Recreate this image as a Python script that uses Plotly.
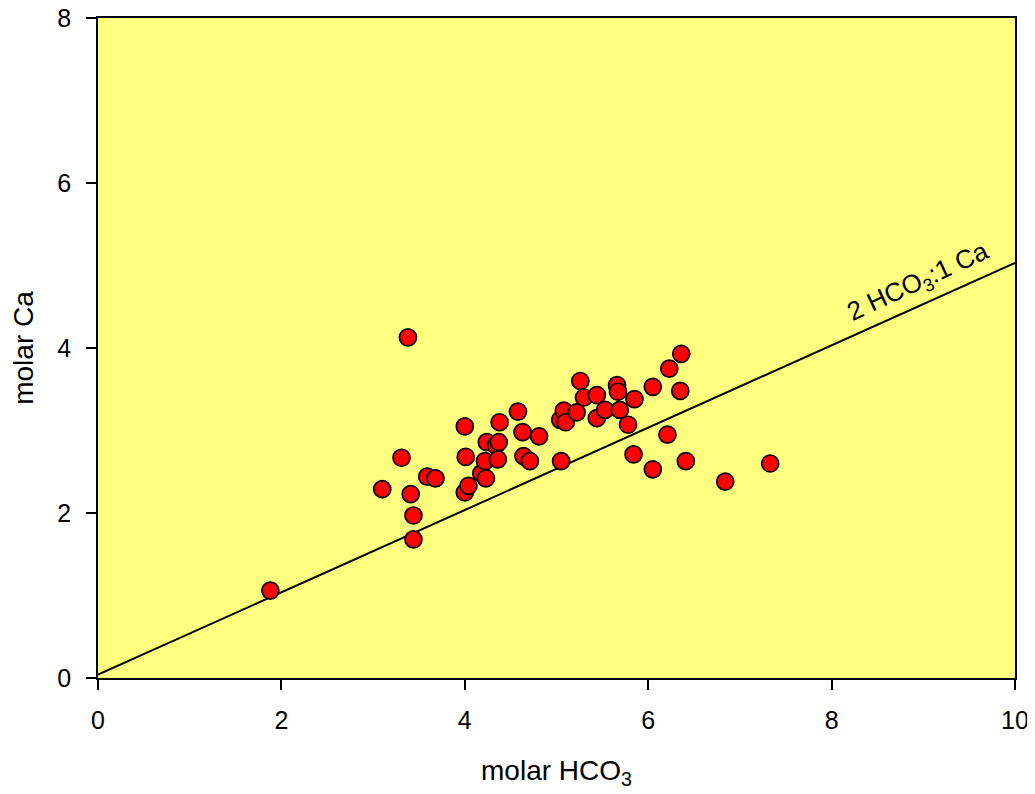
import plotly.graph_objects as go

# molar HCO3 (x) and molar Ca (y) sample values
hco3 = [1.88, 3.10, 3.31, 3.38, 3.41, 3.44, 3.44, 3.59, 3.68, 4.00,
        4.00, 4.01, 4.04, 4.18, 4.22, 4.23, 4.24, 4.34, 4.36, 4.37,
        4.38, 4.58, 4.63, 4.64, 4.71, 4.81, 5.04, 5.05, 5.08, 5.10,
        5.22, 5.26, 5.30, 5.44, 5.44, 5.53, 5.66, 5.67, 5.69, 5.78,
        5.84, 5.85, 6.05, 6.05, 6.21, 6.23, 6.35, 6.36, 6.41, 6.84,
        7.33]
ca = [1.06, 2.29, 2.67, 4.13, 2.23, 1.97, 1.68, 2.44, 2.42, 3.05,
      2.25, 2.68, 2.33, 2.48, 2.63, 2.42, 2.86, 2.82, 2.65, 2.86,
      3.10, 3.23, 2.98, 2.69, 2.63, 2.93, 3.13, 2.63, 3.24, 3.10,
      3.22, 3.60, 3.40, 3.43, 3.15, 3.25, 3.55, 3.47, 3.25, 3.07,
      2.71, 3.38, 3.53, 2.53, 2.95, 3.75, 3.48, 3.93, 2.63, 2.38,
      2.60]

# 2 HCO3 : 1 Ca reference line
ref_x = [0, 10]
ref_y = [0.04, 5.03]

x_ticks = [0, 2, 4, 6, 8, 10]
y_ticks = [0, 2, 4, 6, 8]

font = "Liberation Sans, Arial, sans-serif"

fig = go.Figure()
fig.add_trace(go.Scatter(x=ref_x, y=ref_y, mode="lines",
                         line=dict(color="black", width=2),
                         hoverinfo="skip", showlegend=False))
fig.add_trace(go.Scatter(x=hco3, y=ca, mode="markers",
                         marker=dict(size=17, color="#ff0000",
                                     line=dict(color="black", width=1.7)),
                         showlegend=False))

fig.add_annotation(x=8.94, y=4.80, xref="x", yref="y",
                   text="2 HCO<sub>3</sub>:1 Ca", showarrow=False,
                   textangle=-25, font=dict(family=font, size=26, color="black"))

axis_common = dict(showgrid=False, zeroline=False, showline=True,
                   linecolor="black", linewidth=1.5, mirror=True,
                   ticks="outside", ticklen=10, tickwidth=1.5,
                   tickcolor="black", ticklabeloverflow="allow",
                   automargin=False,
                   tickfont=dict(family=font, size=25, color="black"))

fig.update_xaxes(range=[0, 10], tickvals=x_ticks,
                 title=dict(text="molar HCO<sub>3</sub>",
                            font=dict(family=font, size=28, color="black"),
                            standoff=28),
                 ticklabelstandoff=9, **axis_common)
fig.update_yaxes(range=[0, 8], tickvals=y_ticks,
                 title=dict(text="molar Ca",
                            font=dict(family=font, size=28, color="black"),
                            standoff=22),
                 ticklabelstandoff=10, **axis_common)

fig.update_layout(width=1027, height=786,
                  margin=dict(l=90, r=20, t=10, b=116),
                  plot_bgcolor="#ffff80", paper_bgcolor="white",
                  font=dict(family=font))

fig.write_html("out.html")
